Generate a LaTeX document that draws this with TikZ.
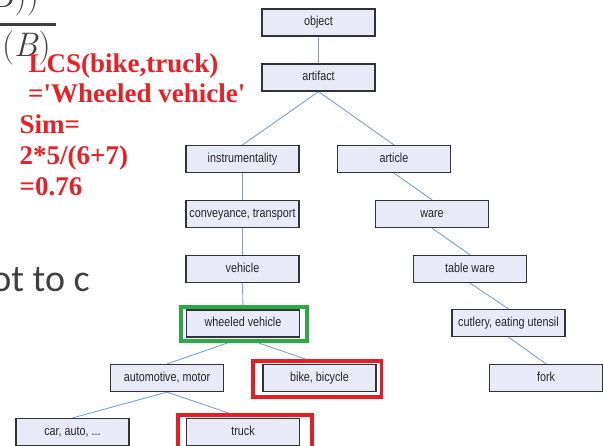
\documentclass[tikz,border=0pt]{standalone}
\usepackage{fontspec}
\usetikzlibrary{calc}
\newfontfamily\treefont{Liberation Sans}[FakeStretch=0.83]
\newfontfamily\redfont{Liberation Serif}
\newfontfamily\bodyfont{Carlito}
\definecolor{boxfill}{RGB}{232,235,247}
\definecolor{boxline}{RGB}{51,51,51}
\definecolor{linkblue}{RGB}{120,160,214}
\definecolor{hlred}{RGB}{232,28,36}
\definecolor{hlgreen}{RGB}{40,170,70}
\definecolor{redtext}{RGB}{235,30,35}
\definecolor{slidegray}{RGB}{64,64,64}
\pgfdeclarelayer{edges}
\pgfdeclarelayer{marks}
\pgfsetlayers{edges,marks,main}
\begin{document}
\begin{tikzpicture}[x=1pt,y=-1pt,
  tbox/.style={draw=boxline, fill=boxfill, line width=1.2pt, minimum width=113pt,
    minimum height=27pt, inner sep=0pt, font=\treefont\fontsize{13}{15}\selectfont,
    text=black!85, text height=9.3pt, text depth=2.7pt},
  link/.style={draw=linkblue, line width=0.9pt},
  hl/.style={line width=3.5pt, fill=white},
  redlbl/.style={anchor=base west, inner sep=0pt, text=redtext,
    font=\redfont\bfseries\fontsize{27}{30}\selectfont},
  slidetxt/.style={inner sep=0pt, text=slidegray}
]
\useasboundingbox (0,0) rectangle (603,445);

% background slide fragments
\fill[slidegray] (0,23.3) rectangle (56,26);
\node[slidetxt, anchor=base east, font=\fontsize{34}{38}\selectfont] (num) at (39,7) {\textit{B}))};
\node[slidetxt, anchor=base west, font=\fontsize{34}{38}\selectfont] (den) at (2,56) {(\textit{B})};
\node[slidetxt, anchor=base east, font=\bodyfont\fontsize{38}{44}\selectfont] (frag) at (90,291) {ot to c};

% tree boxes
\node[tbox] (object) at (318.5,22.5) {object};
\node[tbox] (artifact) at (318.5,77.5) {artifact};
\node[tbox] (instr) at (242.5,159) {instrumentality};
\node[tbox] (article) at (394,159) {article};
\node[tbox] (convey) at (242.5,214) {conveyance, transport};
\node[tbox] (ware) at (432,214) {ware};
\node[tbox] (vehicle) at (242.5,269) {vehicle};
\node[tbox] (tableware) at (470,269) {table ware};
\node[tbox] (wheeled) at (243,323.5) {wheeled vehicle};
\node[tbox] (cutlery) at (508.5,323) {cutlery, eating utensil};
\node[tbox] (auto) at (167,378) {automotive, motor};
\node[tbox] (bike) at (319.5,378) {bike, bicycle};
\node[tbox] (fork) at (546,378) {fork};
\node[tbox] (car) at (72.5,432) {car, auto, ...};
\node[tbox] (truck) at (243,432) {truck};

% connectors
\begin{pgfonlayer}{edges}
\draw[link] (object.south) -- (artifact.north);
\draw[link] (artifact.south) -- (instr.north);
\draw[link] (artifact.south) -- (article.north);
\draw[link] (instr.south) -- (convey.north);
\draw[link] (convey.south) -- (vehicle.north);
\draw[link] (vehicle.south) -- (wheeled.north);
\draw[link] (wheeled.south) -- (auto.north);
\draw[link] (wheeled.south) -- (bike.north);
\draw[link] (auto.south) -- (car.north);
\draw[link] (auto.south) -- (truck.north);
\draw[link] (article.south) -- (ware.north);
\draw[link] (ware.south) -- (tableware.north);
\draw[link] (tableware.south) -- (cutlery.north);
\draw[link] (cutlery.south) -- (fork.north);
\end{pgfonlayer}

% highlight frames
\begin{pgfonlayer}{marks}
\draw[hl, draw=hlgreen] ($(wheeled.north west)+(-4.75,-2.25)$) rectangle ($(wheeled.south east)+(6.75,3.25)$);
\draw[hl, draw=hlred] ($(bike.north west)+(-9.25,-2.75)$) rectangle ($(bike.south east)+(4.75,4.75)$);
\draw[hl, draw=hlred] ($(truck.north west)+(-7.75,-2.75)$) rectangle ($(truck.south east)+(11.75,5)$);
\end{pgfonlayer}

% red annotation
\node[redlbl] (lcs) at (28.5,72.5) {LCS(bike,truck)};
\node[redlbl] (lcsval) at (28,102) {=\textquotesingle Wheeled vehicle\textquotesingle};
\node[redlbl] (sim) at (19.5,133) {Sim=};
\node[redlbl] (simcalc) at (19.5,164) {2*5/(6+7)};
\node[redlbl] (simres) at (19.5,195) {=0.76};
\end{tikzpicture}
\end{document}
